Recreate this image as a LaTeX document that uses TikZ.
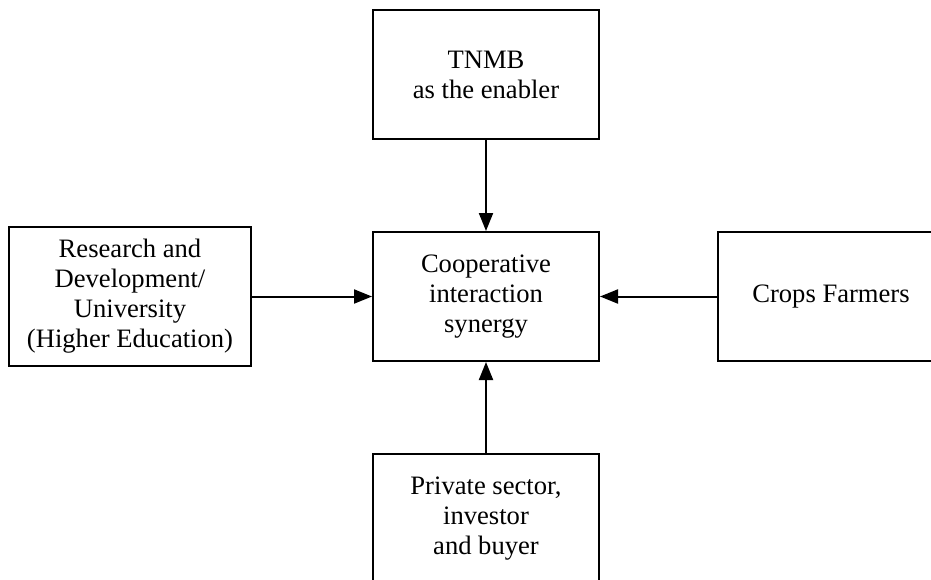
\documentclass[tikz,border=0pt]{standalone}
\usepackage{fontspec}
\setmainfont{Liberation Serif}
\usepackage{tikz}
\usetikzlibrary{positioning}
\usetikzlibrary{arrows.meta}

\tikzset{
    block/.style={draw, line width=1pt, align=center, inner sep=2pt,
        minimum width=113pt, minimum height=64.5pt,
        font=\fontsize{13.3}{15}\selectfont},
    link/.style={line width=1pt, -{Triangle[length=9pt,width=7pt]}}
}

\begin{document}
\begin{tikzpicture}
            \useasboundingbox (0,0) rectangle (465.5pt,-289.5pt);
            \clip (0,0) rectangle (465.5pt,-289.5pt);
            \node[block] at (243pt,-148.25pt) (synergy) {Cooperative\\interaction\\synergy};
            \node[block, above=45.5pt of synergy] (tnmb) {TNMB\\as the enabler};
            \node[block, left=60pt of synergy, minimum width=121pt, minimum height=69.5pt] (research) {Research and\\Development/\\University\\(Higher Education)};
            \node[block, right=58.5pt of synergy] (farmers) {Crops Farmers};
            \node[block, below=45.5pt of synergy] (private) {Private sector,\\investor\\and buyer};
            \draw[link] (tnmb.south) -- (synergy.north);
            \draw[link] (research.east) -- (synergy.west);
            \draw[link] (farmers.west) -- (synergy.east);
            \draw[link] (private.north) -- (synergy.south);
        \end{tikzpicture}
\end{document}
